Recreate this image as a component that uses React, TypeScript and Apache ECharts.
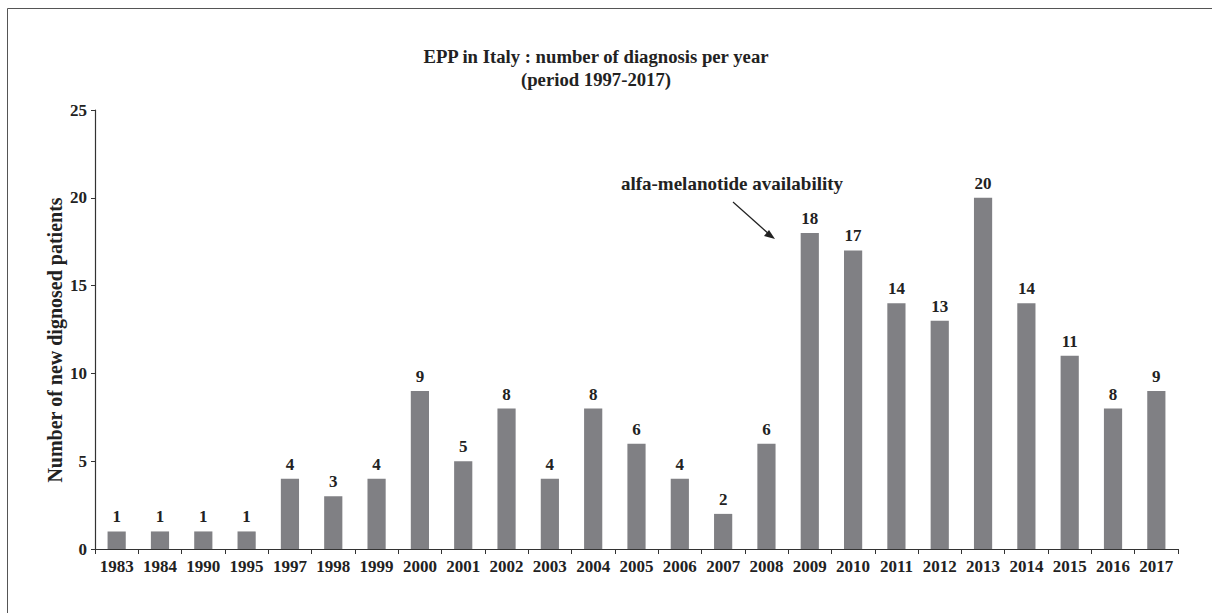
import React, { useEffect, useRef } from "react";
import * as echarts from "echarts";

const categories = ["1983","1984","1990","1995","1997","1998","1999","2000","2001","2002","2003","2004","2005","2006","2007","2008","2009","2010","2011","2012","2013","2014","2015","2016","2017"];
const values = [1,1,1,1,4,3,4,9,5,8,4,8,6,4,2,6,18,17,14,13,20,14,11,8,9];
const yTicks = { min: 0, max: 25, interval: 5 };
const titleLines = ["EPP in Italy : number of diagnosis per year", "(period 1997-2017)"];
const yAxisName = "Number of new dignosed patients";
const annotation = "alfa-melanotide availability";

const FONT = "Liberation Serif";

export default function App() {
  const ref = useRef<HTMLDivElement>(null);
  useEffect(() => {
    document.body.style.margin = "0";
    const chart = echarts.init(ref.current!, null, { renderer: "svg" });
    chart.setOption({
      animation: false,
      backgroundColor: "#ffffff",
      title: {
        text: titleLines.join("\n"),
        left: 591,
        top: 40,
        textAlign: "center",
        textStyle: { fontFamily: FONT, fontWeight: "bold", fontSize: 18.7, color: "#222", lineHeight: 23 },
      },
      grid: { left: 95, right: 34, top: 110, bottom: 64 },
      xAxis: {
        type: "category",
        data: categories,
        axisLine: { lineStyle: { color: "#333", width: 1.2 } },
        axisTick: { show: true, alignWithLabel: false, length: 5, lineStyle: { color: "#333" } },
        axisLabel: { fontFamily: FONT, fontWeight: "bold", fontSize: 17, color: "#222", margin: 9, interval: 0 },
      },
      yAxis: {
        type: "value",
        min: yTicks.min,
        max: yTicks.max,
        interval: yTicks.interval,
        splitLine: { show: false },
        axisLine: { show: true, lineStyle: { color: "#333", width: 1.2 } },
        axisTick: { show: true, length: 4, lineStyle: { color: "#333" } },
        axisLabel: { fontFamily: FONT, fontWeight: "bold", fontSize: 17, color: "#222", margin: 8 },
      },
      series: [
        {
          type: "bar",
          data: values,
          barWidth: "42%",
          itemStyle: { color: "#808084" },
          label: {
            show: true,
            position: "top",
            distance: 6,
            fontFamily: FONT,
            fontWeight: "bold",
            fontSize: 17,
            color: "#222",
          },
        },
      ],
      graphic: [
        {
          type: "rect",
          shape: { x: 7.5, y: 8.5, width: 1230, height: 640 },
          style: { fill: "none", stroke: "#555", lineWidth: 1 },
          silent: true,
        },
        {
          type: "text",
          x: 55,
          y: 340,
          rotation: Math.PI / 2,
          style: {
            text: yAxisName,
            fontFamily: FONT,
            fontWeight: "bold",
            fontSize: 20,
            fill: "#222",
            textAlign: "center",
            textVerticalAlign: "middle",
          },
        },
        {
          type: "text",
          x: 732,
          y: 183,
          style: {
            text: annotation,
            fontFamily: FONT,
            fontWeight: "bold",
            fontSize: 19,
            fill: "#222",
            textAlign: "center",
            textVerticalAlign: "middle",
          },
        },
        {
          type: "line",
          shape: { x1: 733, y1: 202, x2: 770, y2: 235 },
          style: { stroke: "#222", lineWidth: 1.2 },
        },
        {
          type: "polygon",
          shape: { points: [[775, 239], [764, 236], [769, 230]] },
          style: { fill: "#222" },
        },
      ],
    });
    return () => chart.dispose();
  }, []);
  return <div ref={ref} style={{ width: 1212, height: 613 }} />;
}
